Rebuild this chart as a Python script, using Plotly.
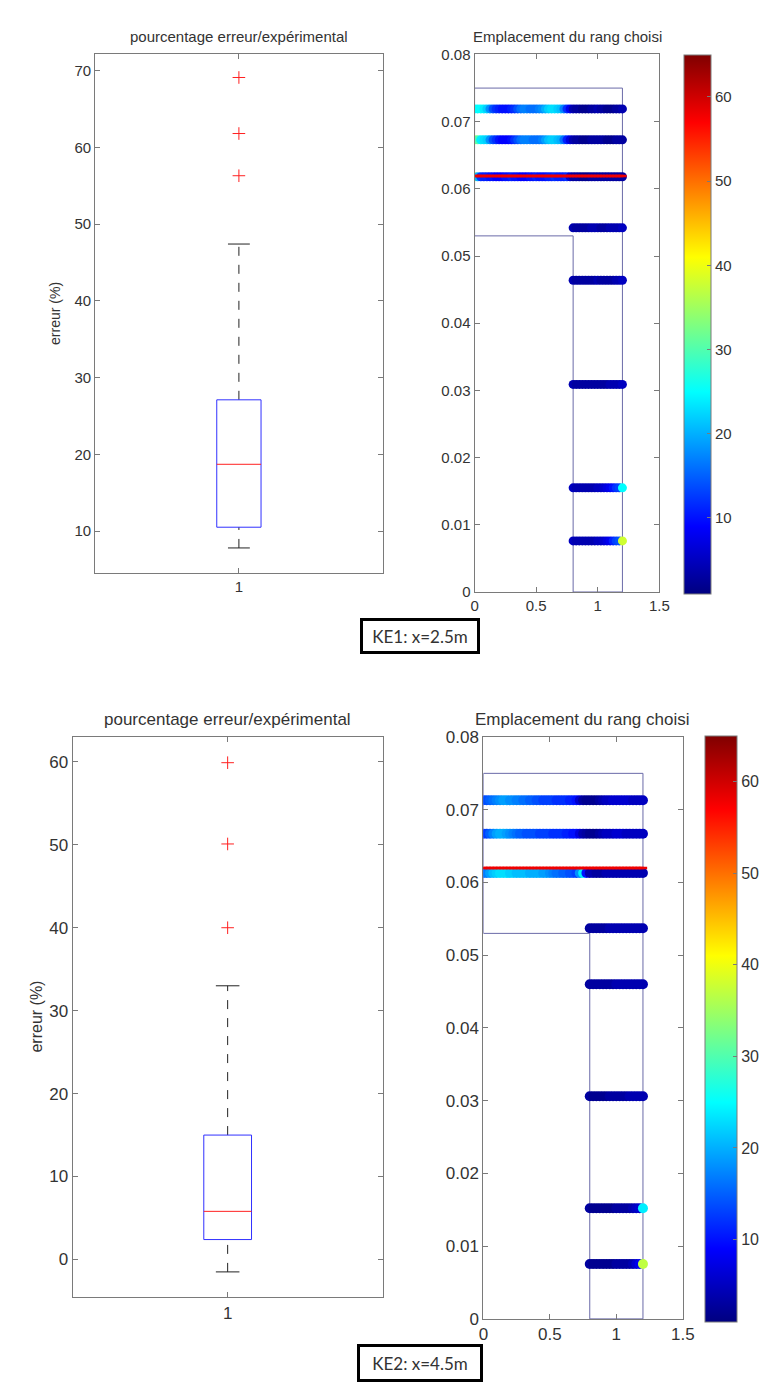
import plotly.graph_objects as go

# ---------------- DATA ----------------
# Box-plot statistics (erreur %), KE1 and KE2
ke1_q1, ke1_median, ke1_q3 = 10.5, 18.7, 27.1
ke1_low_whisker, ke1_high_whisker = 7.8, 47.4
ke1_outliers = [56.3, 61.8, 69.1]

ke2_q1, ke2_median, ke2_q3 = 2.4, 5.8, 15.0
ke2_low_whisker, ke2_high_whisker = -1.5, 33.0
ke2_outliers = [40.0, 50.1, 59.9]

# Section outline (T-beam): flange 0..1.2 x 0.053..0.075, web 0.8..1.2 x 0..0.053
section_x = [0, 1.2, 1.2, 0.8, 0.8, 0, 0]
section_y = [0.075, 0.075, 0, 0, 0.053, 0.053, 0.075]

# x positions of tested points
x_flange = [0.0, 0.025, 0.05, 0.075, 0.1, 0.125, 0.15, 0.175, 0.2, 0.225, 0.25, 0.275,
            0.3, 0.325, 0.35, 0.375, 0.4, 0.425, 0.45, 0.475, 0.5, 0.525, 0.55, 0.575,
            0.6, 0.625, 0.65, 0.675, 0.7, 0.725, 0.75, 0.775, 0.8, 0.825, 0.85, 0.875,
            0.9, 0.925, 0.95, 0.975, 1.0, 1.025, 1.05, 1.075, 1.1, 1.125, 1.15, 1.175, 1.2]
x_web = [0.8, 0.825, 0.85, 0.875, 0.9, 0.925, 0.95, 0.975, 1.0, 1.025, 1.05, 1.075,
         1.1, 1.125, 1.15, 1.175, 1.2]

# KE1 rows: depth and error values
ke1_flange_depths = [0.0719, 0.0673, 0.0618]
ke1_flange_errors = [
    [24, 25, 25, 24, 22, 18, 14, 12, 11, 10, 10, 10, 11, 12, 14, 16, 17, 17, 16, 16,
     16, 17, 18, 20, 22, 23, 23, 22, 21, 17, 12, 8, 4, 3, 3, 2, 2, 2, 3, 3,
     4, 3, 3, 2, 2, 2, 3, 3, 4],
    [38, 30, 24, 23, 22, 18, 14, 12, 10, 9, 9, 9, 10, 12, 14, 16, 17, 17, 17, 16,
     16, 16, 17, 19, 21, 22, 22, 21, 20, 16, 11, 7, 4, 3, 3, 2, 2, 2, 3, 3,
     3, 3, 3, 2, 2, 2, 3, 3, 3],
    [36, 20, 12, 11, 11, 10, 10, 9, 9, 9, 10, 10, 11, 10, 10, 9, 9, 9, 10, 10,
     11, 10, 10, 10, 11, 11, 12, 11, 11, 11, 12, 6, 3, 3, 3, 2, 2, 2, 3, 3,
     3, 3, 3, 3, 3, 3, 3, 3, 3],
]
ke1_red_depth = 0.0619
ke1_red_error = 58
ke1_web_depths = [0.0542, 0.0464, 0.0309, 0.0155, 0.0076]
ke1_web_errors = [
    [4, 3, 3, 3, 3, 3, 4, 4, 4, 3, 3, 3, 4, 4, 4, 4, 5],
    [4, 3, 3, 3, 3, 3, 3, 3, 4, 3, 3, 3, 3, 3, 4, 4, 5],
    [4, 3, 3, 3, 3, 3, 3, 3, 3, 3, 3, 3, 4, 4, 4, 4, 5],
    [5, 4, 4, 4, 4, 4, 4, 4, 5, 5, 6, 7, 8, 10, 12, 13, 25],
    [5, 4, 4, 4, 4, 4, 4, 4, 5, 5, 6, 7, 8, 11, 13, 14, 38],
]

# KE2 rows
ke2_flange_depths = [0.0713, 0.0667, 0.0613]
ke2_flange_errors = [
    [13, 14, 15, 16, 17, 18, 19, 19, 18, 18, 17, 17, 16, 16, 15, 15, 14, 14, 13, 13,
     13, 13, 12, 12, 12, 12, 11, 11, 10, 6, 3, 2, 2, 2, 2, 3, 4, 5, 5, 6,
     6, 6, 6, 6, 6, 5, 5, 5, 5],
    [12, 13, 15, 17, 19, 20, 20, 19, 18, 17, 16, 15, 15, 14, 14, 14, 14, 13, 13, 13,
     13, 12, 12, 12, 12, 11, 11, 10, 10, 7, 4, 3, 2, 2, 2, 3, 4, 5, 5, 5,
     6, 6, 6, 5, 5, 5, 5, 5, 5],
    [15, 17, 19, 21, 22, 23, 23, 23, 22, 22, 21, 21, 21, 21, 20, 20, 20, 20, 19, 19,
     18, 17, 16, 16, 15, 15, 14, 14, 13, 18, 24, 10, 4, 4, 3, 3, 3, 4, 4, 4,
     4, 4, 4, 4, 4, 4, 4, 4, 4],
]
ke2_red_depth = 0.0620
ke2_red_error = 58
ke2_web_depths = [0.0537, 0.0460, 0.0306, 0.0152, 0.00755]
ke2_web_errors = [
    [3, 3, 3, 3, 3, 3, 4, 4, 4, 4, 4, 4, 4, 4, 4, 4, 4],
    [3, 3, 3, 3, 3, 3, 3, 3, 4, 4, 4, 4, 4, 4, 4, 4, 4],
    [3, 2, 2, 2, 2, 2, 3, 3, 3, 3, 3, 3, 4, 4, 4, 4, 4],
    [3, 2, 2, 2, 2, 2, 2, 2, 3, 3, 3, 3, 3, 4, 5, 6, 24],
    [3, 2, 2, 2, 2, 2, 2, 2, 3, 3, 3, 3, 3, 4, 6, 8, 37],
]

error_range = [1, 65]
colorbar_ticks = [10, 20, 30, 40, 50, 60]

# MATLAB-style jet colour map
JET = [[0.0, "rgb(0,0,128)"], [0.125, "rgb(0,0,255)"], [0.375, "rgb(0,255,255)"],
       [0.625, "rgb(255,255,0)"], [0.875, "rgb(255,0,0)"], [1.0, "rgb(128,0,0)"]]

# ---------------- FIGURE ----------------
W, H = 769, 1385
FONT = "Liberation Sans, Arial, sans-serif"
AX_GRAY = "#7a7a7a"
TXT = "#333333"

fig = go.Figure()


def px_x(p):
    return p / W


def px_y(p):
    return 1 - p / H


def add_box(stats, outliers, xa, ya):
    q1, med, q3, lo, hi = stats
    bw, cw = 0.077, 0.038
    common = dict(xaxis=xa, yaxis=ya, hoverinfo="skip", showlegend=False)
    fig.add_trace(go.Scatter(x=[1, 1], y=[q3, hi], mode="lines",
                             line=dict(color="#222222", width=1, dash="dash"), **common))
    fig.add_trace(go.Scatter(x=[1, 1], y=[lo, q1], mode="lines",
                             line=dict(color="#222222", width=1, dash="dash"), **common))
    for v in (hi, lo):
        fig.add_trace(go.Scatter(x=[1 - cw, 1 + cw], y=[v, v], mode="lines",
                                 line=dict(color="#222222", width=1), **common))
    fig.add_trace(go.Scatter(x=[1 - bw, 1 + bw, 1 + bw, 1 - bw, 1 - bw],
                             y=[q1, q1, q3, q3, q1], mode="lines",
                             line=dict(color="#3030ff", width=1), **common))
    fig.add_trace(go.Scatter(x=[1 - bw, 1 + bw], y=[med, med], mode="lines",
                             line=dict(color="#ff2020", width=1), **common))
    fig.add_trace(go.Scatter(x=[1] * len(outliers), y=outliers, mode="markers",
                             marker=dict(symbol="cross-thin", size=9,
                                         line=dict(color="#ff2020", width=1)), **common))


def add_section(xa, ya, fl_depths, fl_err, red_depth, red_err, web_depths, web_err,
                coloraxis, msize):
    common = dict(xaxis=xa, yaxis=ya, hoverinfo="skip", showlegend=False)
    fig.add_trace(go.Scatter(x=section_x, y=section_y, mode="lines",
                             line=dict(color="#6a6aa8", width=1), **common))
    for d, errs in zip(web_depths, web_err):
        fig.add_trace(go.Scatter(x=x_web, y=[d] * len(x_web), mode="markers",
                                 marker=dict(color=errs, coloraxis=coloraxis, size=msize,
                                             line=dict(width=0)), **common))
    for d, errs in zip(fl_depths, fl_err):
        fig.add_trace(go.Scatter(x=x_flange, y=[d] * len(x_flange), mode="markers",
                                 marker=dict(color=errs, coloraxis=coloraxis, size=msize,
                                             line=dict(width=0)), **common))
    # high-error row: thin band of short horizontal marks coloured by the same scale
    fig.add_trace(go.Scatter(x=x_flange, y=[red_depth] * len(x_flange), mode="markers",
                             marker=dict(symbol="line-ew", size=6,
                                         line=dict(color=[red_err] * len(x_flange),
                                                   colorscale=JET,
                                                   cmin=error_range[0], cmax=error_range[1],
                                                   width=2.5)), **common))


add_box((ke1_q1, ke1_median, ke1_q3, ke1_low_whisker, ke1_high_whisker), ke1_outliers, "x", "y")
add_section("x2", "y2", ke1_flange_depths, ke1_flange_errors, ke1_red_depth, ke1_red_error,
            ke1_web_depths, ke1_web_errors, "coloraxis", 9)
add_box((ke2_q1, ke2_median, ke2_q3, ke2_low_whisker, ke2_high_whisker), ke2_outliers, "x3", "y3")
add_section("x4", "y4", ke2_flange_depths, ke2_flange_errors, ke2_red_depth, ke2_red_error,
            ke2_web_depths, ke2_web_errors, "coloraxis2", 10)


def axis_style(size, **kw):
    d = dict(showline=True, linecolor=AX_GRAY, linewidth=1, mirror="ticks",
             ticks="inside", ticklen=5, tickcolor=AX_GRAY, showgrid=False, zeroline=False,
             tickfont=dict(family=FONT, size=size, color=TXT), fixedrange=True)
    d.update(kw)
    return d


y_ticks_sec = [0, 0.01, 0.02, 0.03, 0.04, 0.05, 0.06, 0.07, 0.08]
y_text_sec = ["0", "0.01", "0.02", "0.03", "0.04", "0.05", "0.06", "0.07", "0.08"]

layout = dict(
    width=W, height=H, margin=dict(l=0, r=0, t=0, b=0),
    paper_bgcolor="white", plot_bgcolor="white", showlegend=False,
    xaxis=axis_style(15, domain=[px_x(84), px_x(378)], range=[0.5, 1.5],
                     tickvals=[1], ticktext=["1"], anchor="y"),
    yaxis=axis_style(15, domain=[px_y(564), px_y(38)], range=[4.5, 72.1],
                     tickvals=[10, 20, 30, 40, 50, 60, 70], anchor="x"),
    xaxis2=axis_style(15, domain=[px_x(472), px_x(661)], range=[0, 1.5],
                      tickvals=[0, 0.5, 1, 1.5], ticktext=["0", "0.5", "1", "1.5"], anchor="y2"),
    yaxis2=axis_style(15, domain=[px_y(583), px_y(38)], range=[0, 0.08],
                      tickvals=y_ticks_sec, ticktext=y_text_sec, anchor="x2"),
    xaxis3=axis_style(17, domain=[px_x(61), px_x(378)], range=[0.5, 1.5],
                      tickvals=[1], ticktext=["1"], anchor="y3"),
    yaxis3=axis_style(17, domain=[px_y(1298), px_y(730)], range=[-4.55, 63],
                      tickvals=[0, 10, 20, 30, 40, 50, 60], anchor="x3"),
    xaxis4=axis_style(17, domain=[px_x(481), px_x(685)], range=[0, 1.5],
                      tickvals=[0, 0.5, 1, 1.5], ticktext=["0", "0.5", "1", "1.5"], anchor="y4"),
    yaxis4=axis_style(17, domain=[px_y(1320), px_y(730)], range=[0, 0.08],
                      tickvals=y_ticks_sec, ticktext=y_text_sec, anchor="x4"),
    coloraxis=dict(colorscale=JET, cmin=error_range[0], cmax=error_range[1],
                   colorbar=dict(x=px_x(686), xanchor="left", thickness=27,
                                 len=547 / H, lenmode="fraction", y=px_y(311.5), yanchor="middle",
                                 xpad=0, ypad=0, outlinecolor=AX_GRAY, outlinewidth=1,
                                 tickvals=colorbar_ticks, ticks="inside", ticklen=4,
                                 tickcolor=AX_GRAY,
                                 tickfont=dict(family=FONT, size=15, color=TXT))),
    coloraxis2=dict(colorscale=JET, cmin=error_range[0], cmax=error_range[1],
                    colorbar=dict(x=px_x(708), xanchor="left", thickness=32,
                                  len=594 / H, lenmode="fraction", y=px_y(1026), yanchor="middle",
                                  xpad=0, ypad=0, outlinecolor=AX_GRAY, outlinewidth=1,
                                  tickvals=colorbar_ticks, ticks="inside", ticklen=4,
                                  tickcolor=AX_GRAY,
                                  tickfont=dict(family=FONT, size=16, color=TXT))),
)
fig.update_layout(**layout)

KE_FONT = dict(family="Lato, Open Sans, sans-serif", size=17, color="#333")
annotations = [
    dict(text="pourcentage erreur/expérimental", x=px_x(231), y=px_y(20),
         font=dict(family=FONT, size=15, color=TXT)),
    dict(text="Emplacement du rang choisi", x=px_x(567), y=px_y(20),
         font=dict(family=FONT, size=15, color=TXT)),
    dict(text="erreur (%)", x=px_x(43), y=px_y(301), textangle=-90,
         font=dict(family=FONT, size=14, color=TXT)),
    dict(text="pourcentage erreur/expérimental", x=px_x(219), y=px_y(712),
         font=dict(family=FONT, size=17, color=TXT)),
    dict(text="Emplacement du rang choisi", x=px_x(582), y=px_y(712),
         font=dict(family=FONT, size=17, color=TXT)),
    dict(text="erreur (%)", x=px_x(24), y=px_y(1013), textangle=-90,
         font=dict(family=FONT, size=16, color=TXT)),
    dict(text="KE1: x=2.5m", x=px_x(416), y=px_y(628), bordercolor="black", borderwidth=3,
         borderpad=5, width=104, height=20, bgcolor="white", font=KE_FONT),
    dict(text="KE2: x=4.5m", x=px_x(416), y=px_y(1365), bordercolor="black", borderwidth=3,
         borderpad=5, width=110, height=22, bgcolor="white", font=KE_FONT),
]
for a in annotations:
    a.update(xref="paper", yref="paper", showarrow=False, xanchor="center", yanchor="middle")
fig.update_layout(annotations=annotations)

fig.write_html("out.html")
